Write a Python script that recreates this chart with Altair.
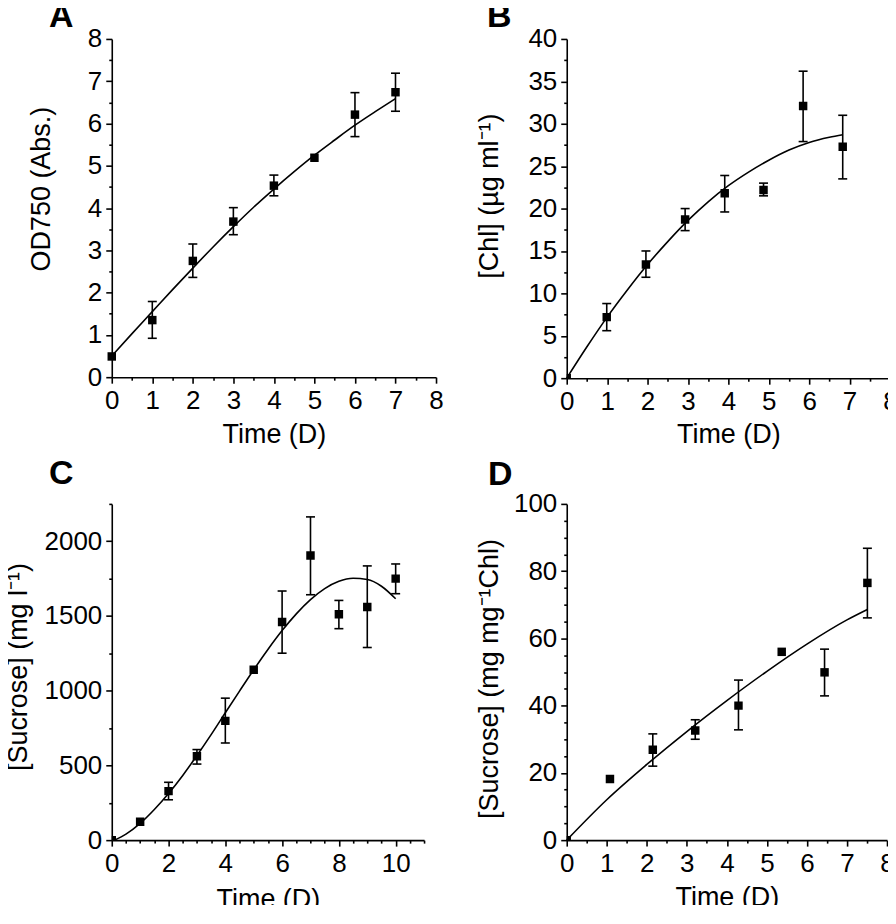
import altair as alt
import pandas as pd
import numpy as np

FONT = "Liberation Sans"

# ---------------- Panel A : OD750 ----------------
a_day = [0, 1, 2, 3, 4, 5, 6, 7]
a_val = [0.49, 1.35, 2.75, 3.68, 4.53, 5.19, 6.21, 6.74]
a_lo = [0.49, 0.92, 2.36, 3.37, 4.29, 5.19, 5.69, 6.29]
a_hi = [0.49, 1.79, 3.15, 4.01, 4.78, 5.19, 6.73, 7.19]
a_fit_day = [0, 0.5, 1, 1.5, 2, 2.5, 3, 3.5, 4, 4.5, 5, 5.5, 6, 6.5, 7]
a_fit_val = [0.5, 1.03, 1.55, 2.07, 2.58, 3.08, 3.56, 4.02, 4.45, 4.86, 5.25, 5.61, 5.96, 6.28, 6.59]

# ---------------- Panel B : Chl ----------------
b_day = [0, 0.99, 1.96, 2.93, 3.91, 4.87, 5.85, 6.83]
b_val = [0.0, 7.2, 13.4, 18.7, 21.8, 22.2, 32.1, 27.3]
b_lo = [0.0, 5.6, 11.9, 17.4, 19.6, 21.5, 27.9, 23.5]
b_hi = [0.0, 8.8, 15.0, 20.0, 23.9, 23.0, 36.2, 31.0]
b_fit_day = [0, 0.5, 1, 1.5, 2, 2.5, 3, 3.5, 4, 4.5, 5, 5.5, 6, 6.5, 6.83]
b_fit_val = [0, 3.7, 7.2, 10.4, 13.4, 16.1, 18.6, 20.8, 22.7, 24.3, 25.7, 26.9, 27.8, 28.4, 28.7]

# ---------------- Panel C : Sucrose (mg/l) ----------------
c_day = [0, 1, 2, 3, 4, 5, 6, 7, 8, 9, 10]
c_val = [0, 123, 328, 561, 798, 1140, 1459, 1904, 1511, 1560, 1750]
c_lo = [0, 123, 270, 509, 650, 1140, 1251, 1642, 1415, 1289, 1649]
c_hi = [0, 123, 387, 606, 950, 1140, 1667, 2163, 1604, 1835, 1848]
c_fit_day = [0.1, 0.5, 1, 1.5, 2, 2.5, 3, 3.5, 4, 4.5, 5, 5.5, 6, 6.5, 7, 7.5, 8, 8.5, 9, 9.5, 10]
c_fit_val = [0, 40, 112, 205, 312, 433, 566, 706, 852, 997, 1140, 1276, 1402, 1514, 1609, 1683, 1732, 1752, 1744, 1699, 1615]

# ---------------- Panel D : Sucrose (mg/mg Chl) ----------------
d_day = [0, 1.08, 2.15, 3.21, 4.29, 5.37, 6.44, 7.51]
d_val = [0.0, 18.2, 26.9, 32.6, 40.0, 56.0, 49.9, 76.5]
d_lo = [0.0, 18.2, 22.0, 30.0, 32.8, 56.0, 42.9, 66.1]
d_hi = [0.0, 18.2, 31.6, 35.8, 47.6, 56.0, 56.8, 86.8]
d_fit_day = [0, 1, 2, 3, 4, 5, 6, 7, 7.51]
d_fit_val = [0, 12.0, 22.5, 32.3, 41.5, 50.2, 58.3, 65.5, 68.6]


def ticks(lo, hi, step):
    return [round(float(v), 6) for v in np.arange(lo, hi + step / 2, step)]


def major_axis(vals, title, orient, tx, ty):
    return alt.Axis(values=vals, title=title, orient=orient, tickSize=6,
                    format="d", labelFlush=False, labelOverlap=False, grid=False,
                    titleBaseline="alphabetic", titleX=tx, titleY=ty)


def minor_axis(vals, orient):
    return alt.Axis(values=vals, title=None, orient=orient, tickSize=3,
                    labels=False, domain=False, grid=False)


def panel(letter, day, val, lo, hi, fday, fval, xdom, xstep, xmajor,
          ydom, ystep, ymajor, ytitle, w, h, ytx, yty, xty, ldx, ldy, clip_pts):
    pts = pd.DataFrame({"t": day, "v": val, "lo": lo, "hi": hi})
    fit = pd.DataFrame({"t": fday, "v": fval})
    xs = alt.Scale(domain=xdom, nice=False, zero=False)
    ys = alt.Scale(domain=ydom, nice=False, zero=False)
    xa = major_axis(ticks(xdom[0], xdom[1], xmajor), "Time (D)", "bottom", w / 2, xty)
    ya = major_axis(ticks(ydom[0], ydom[1], ymajor), ytitle, "left", ytx, yty)
    xminor = [v for v in ticks(xdom[0], xdom[1], xstep) if abs(v / xmajor - round(v / xmajor)) > 1e-6]
    yminor = [v for v in ticks(ydom[0], ydom[1], ystep) if abs(v / ymajor - round(v / ymajor)) > 1e-6]

    curve = alt.Chart(fit).mark_line(color="black", strokeWidth=1.6,
                                     interpolate="monotone").encode(
        x=alt.X("t:Q", scale=xs, axis=xa),
        y=alt.Y("v:Q", scale=ys, axis=ya),
    )
    bars_base = alt.Chart(pts).transform_filter("datum.hi > datum.lo")
    rules = bars_base.mark_rule(color="black", strokeWidth=1.6).encode(
        x=alt.X("t:Q", scale=xs, axis=None),
        y=alt.Y("lo:Q", scale=ys, axis=None),
        y2="hi:Q",
    )
    cap_lo = bars_base.mark_tick(color="black", orient="horizontal", size=9,
                                 thickness=1.6, opacity=1).encode(
        x=alt.X("t:Q", scale=xs, axis=None),
        y=alt.Y("lo:Q", scale=ys, axis=None),
    )
    cap_hi = bars_base.mark_tick(color="black", orient="horizontal", size=9,
                                 thickness=1.6, opacity=1).encode(
        x=alt.X("t:Q", scale=xs, axis=None),
        y=alt.Y("hi:Q", scale=ys, axis=None),
    )
    points = alt.Chart(pts).mark_square(color="black", size=72, opacity=1,
                                        clip=clip_pts).encode(
        x=alt.X("t:Q", scale=xs, axis=minor_axis(xminor, "bottom")),
        y=alt.Y("v:Q", scale=ys, axis=minor_axis(yminor, "left")),
    )
    lab = alt.Chart(pd.DataFrame({"s": [letter]})).mark_text(
        font=FONT, fontSize=34, fontWeight="bold", align="left",
        baseline="alphabetic", color="black",
    ).encode(text="s:N", x=alt.value(ldx), y=alt.value(ldy))
    return alt.layer(curve, rules, cap_lo, cap_hi, points, lab).resolve_axis(
        x="independent", y="independent").properties(width=w, height=h)


pA = panel("A", a_day, a_val, a_lo, a_hi, a_fit_day, a_fit_val,
           [0, 8], 0.5, 1, [0, 8], 0.5, 1, "OD750 (Abs.)",
           325, 339, -62, 150, 65, -63, -12, False)
pB = panel("B", b_day, b_val, b_lo, b_hi, b_fit_day, b_fit_val,
           [0, 8], 0.5, 1, [0, 40], 2.5, 5, "[Chl] (µg ml⁻¹)",
           324, 340, -69, 157, 64, -80, -12, True)
pC = panel("C", c_day, c_val, c_lo, c_hi, c_fit_day, c_fit_val,
           [0, 11], 0.5, 2, [0, 2250], 250, 500, "[Sucrose] (mg l⁻¹)",
           313, 337, -85, 163, 68, -63, -20, True)
pD = panel("D", d_day, d_val, d_lo, d_hi, d_fit_day, d_fit_val,
           [0, 8], 0.5, 1, [0, 100], 5, 20, "[Sucrose] (mg mg⁻¹Chl)",
           321, 337, -69, 175, 66, -79, -19, True)

chart = alt.concat(pA, pB, pC, pD, columns=2,
                   spacing={"row": 10, "column": 32}).properties(
    padding={"left": -3, "top": -9, "right": -10, "bottom": -9}
).configure_axis(
    labelFont=FONT, labelFontSize=26, labelColor="black", labelPadding=4,
    titleFont=FONT, titleFontSize=27, titleFontWeight="normal", titleColor="black",
    domainColor="black", domainWidth=1.6, tickColor="black", tickWidth=1.6,
).configure_view(stroke=None)

chart.save("out.html", embed_options={"renderer": "svg", "actions": False})
